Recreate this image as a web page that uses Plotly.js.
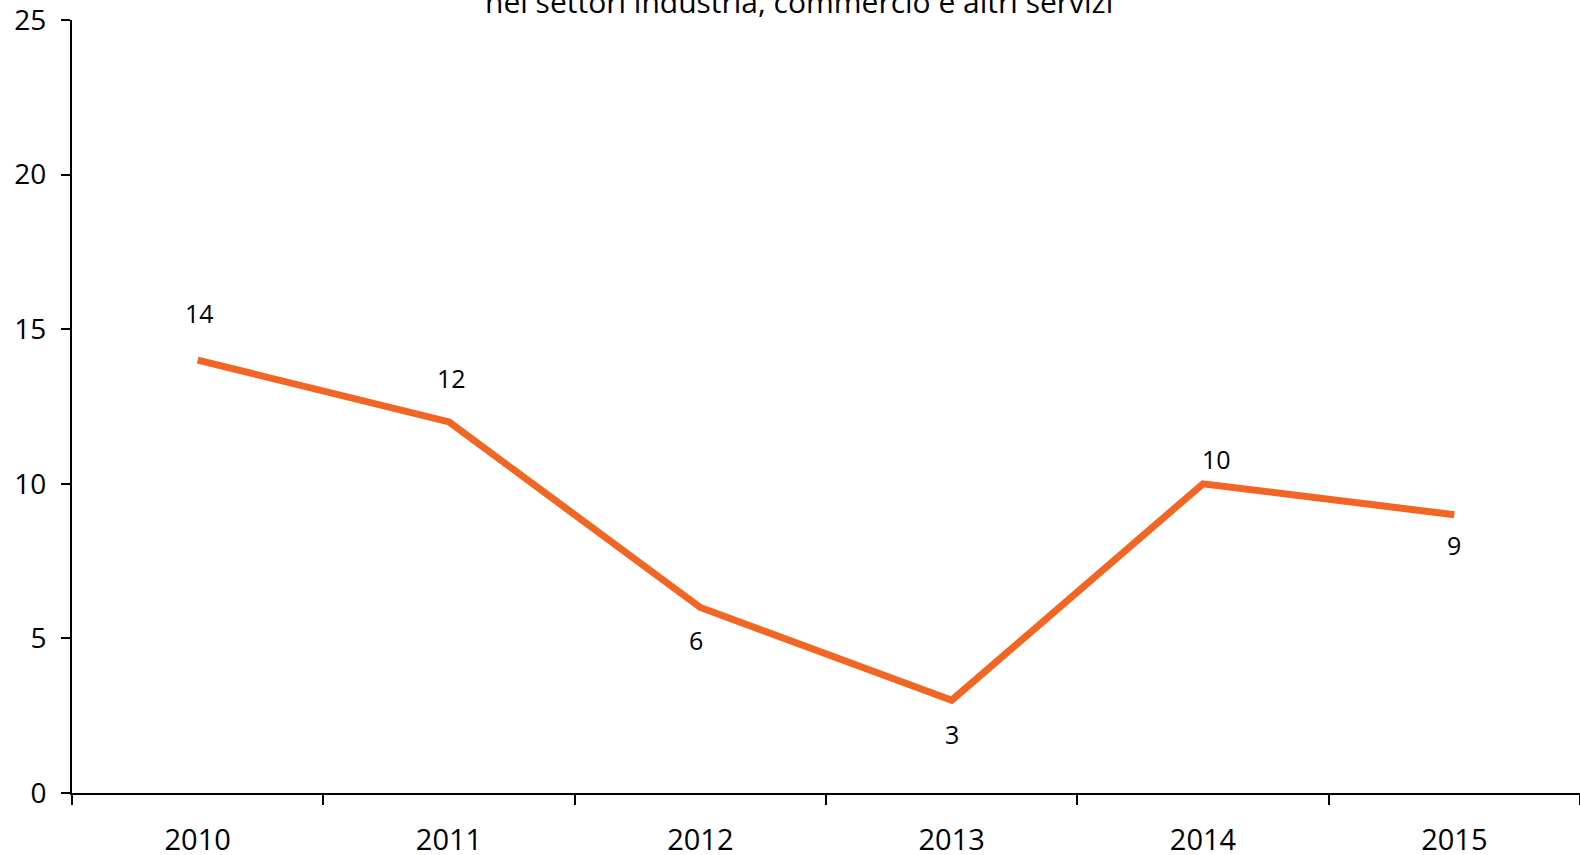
<!DOCTYPE html>
<html>
<head>
<meta charset="utf-8">
<script src="https://cdn.plot.ly/plotly-3.0.1.min.js"></script>
<style>html,body{margin:0;padding:0;background:#fff;}#chart{width:1580px;height:855px;}</style>
</head>
<body>
<div id="chart"></div>
<script>
const years = ['2010', '2011', '2012', '2013', '2014', '2015'];
const values = [14, 12, 6, 3, 10, 9];
const labelShiftY = [47, 44, -33, -34, 25, -30];
const labelShiftX = [2, 2, -4, 0, 13, 0];
const subtitle = 'nei settori industria, commercio e altri servizi';

const FONT = 'Open Sans, Lato, sans-serif';

const trace = {
  x: years,
  y: values,
  type: 'scatter',
  mode: 'lines',
  line: {color: '#F26522', width: 7},
  hoverinfo: 'x+y'
};

const annotations = years.map((yr, i) => ({
  x: i, y: values[i], xref: 'x', yref: 'y',
  text: String(values[i]), showarrow: false,
  xshift: labelShiftX[i], yshift: labelShiftY[i],
  font: {family: FONT, size: 25, color: '#000'}
}));
annotations.push({
  x: 0.482, y: 1, xref: 'paper', yref: 'paper', xanchor: 'center', yanchor: 'bottom',
  text: subtitle, showarrow: false, yshift: -4,
  font: {family: FONT, size: 30, color: '#000'}
});

const layout = {
  width: 1580, height: 855,
  margin: {l: 72, r: 0, t: 20, b: 62},
  paper_bgcolor: '#fff', plot_bgcolor: '#fff',
  showlegend: false,
  font: {family: FONT, color: '#000'},
  xaxis: {
    type: 'category', range: [-0.5, 5.5],
    showline: true, linecolor: '#000', linewidth: 2,
    ticks: 'outside', tickson: 'boundaries', ticklen: 10, tickwidth: 2, tickcolor: '#000',
    ticklabelstandoff: 20,
    showgrid: false, zeroline: false,
    tickfont: {family: FONT, size: 29, color: '#000'}
  },
  yaxis: {
    range: [0, 25], tickvals: [0, 5, 10, 15, 20, 25],
    showline: true, linecolor: '#000', linewidth: 2,
    ticks: 'outside', ticklen: 9, tickwidth: 2, tickcolor: '#000',
    ticklabelstandoff: 9, ticklabeloverflow: 'allow',
    showgrid: false, zeroline: false,
    tickfont: {family: FONT, size: 28, color: '#000'}
  },
  annotations: annotations
};

Plotly.newPlot('chart', [trace], layout, {displayModeBar: false, staticPlot: true});
</script>
</body>
</html>
